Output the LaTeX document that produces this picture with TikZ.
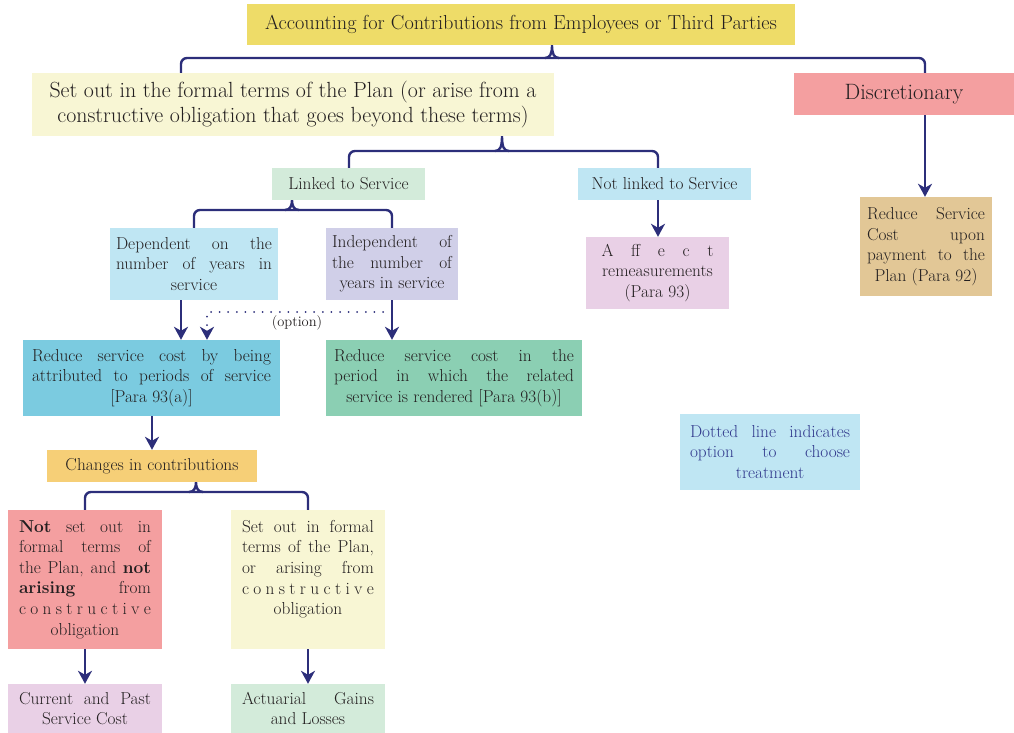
\documentclass[tikz,border=0pt]{standalone}
\usepackage{fontspec}
\usetikzlibrary{arrows.meta}
\definecolor{navy}{RGB}{44,46,122}
\definecolor{legendtxt}{RGB}{48,56,140}
\definecolor{txt}{RGB}{35,31,32}
\definecolor{cTitle}{RGB}{238,220,104}
\definecolor{cCream}{RGB}{248,246,212}
\definecolor{cPink}{RGB}{244,159,160}
\definecolor{cGreenL}{RGB}{211,235,218}
\definecolor{cBlueL}{RGB}{191,230,243}
\definecolor{cTan}{RGB}{226,199,150}
\definecolor{cLav}{RGB}{208,207,232}
\definecolor{cMauve}{RGB}{233,208,230}
\definecolor{cBlue}{RGB}{123,203,224}
\definecolor{cGreen}{RGB}{139,207,179}
\definecolor{cOrange}{RGB}{246,207,119}
\newcommand\jc[1]{\leftskip=0pt plus 1fil\rightskip=0pt plus -1fil\parfillskip=0pt plus 2fil\noindent#1\par}
\newcommand\spreadcon{c\hfill o\hfill n\hfill s\hfill t\hfill r\hfill u\hfill c\hfill t\hfill i\hfill v\hfill e}
\newcommand\fs{\fontsize{17.3}{20.6}\selectfont}
\tikzset{
  box/.style={rectangle, inner sep=0pt, font=\fs, text=txt, align=center},
  jbox/.style={box, align=none},
  conn/.style={draw=navy, line width=2.4pt},
  arr/.style={conn, -{Stealth[length=13pt,width=14pt,inset=4pt]}},
  dotarr/.style={draw=navy, line width=2pt, line cap=round, dash pattern=on 0pt off 8.6pt,
     -{Stealth[length=13pt,width=14pt,inset=4pt]}},
}
\begin{document}
\begin{tikzpicture}[x=1pt,y=-1pt]
\useasboundingbox (0,0) rectangle (1014,733);
% nodes
\node[box,fill=cTitle,minimum width=548pt,minimum height=41pt,font=\fontsize{20.3}{24}\selectfont] (title) at (521,24.5) {Accounting for Contributions from Employees or Third Parties};
\node[box,fill=cCream,minimum width=522pt,minimum height=63pt,font=\fontsize{21.9}{24.5}\selectfont] (setout) at (293,104.5) {Set out in the formal terms of the Plan (or arise from a\\constructive obligation that goes beyond these terms)};
\node[box,fill=cPink,minimum width=220pt,minimum height=42pt,font=\fontsize{22.2}{26}\selectfont] (disc) at (904,94) {Discretionary};
\node[box,fill=cGreenL,minimum width=153pt,minimum height=32pt] (linked) at (348.5,184) {Linked to Service};
\node[box,fill=cBlueL,minimum width=173pt,minimum height=32pt] (notlinked) at (664.5,184) {Not linked to Service};
\node[jbox,fill=cTan,minimum width=132pt,minimum height=99pt,text width=118pt] (tan) at (926,246.5) {\jc{Reduce Service\linebreak Cost upon\linebreak payment to the\linebreak Plan (Para 92)}};
\node[jbox,fill=cBlueL,minimum width=168pt,minimum height=72pt,text width=156pt] (dep) at (194,264) {\jc{Dependent on the\linebreak number of years in\linebreak service}};
\node[jbox,fill=cLav,minimum width=132pt,minimum height=72pt,text width=120pt] (indep) at (392,264) {\jc{Independent of\linebreak the number of\linebreak years in service}};
\node[box,fill=cMauve,minimum width=143pt,minimum height=72pt] (affect) at (657.5,273) {\makebox[112pt][s]{A\hfill ff\hfill e\hfill c\hfill t}\\remeasurements\\(Para 93)};
\node[jbox,fill=cBlue,minimum width=257pt,minimum height=76pt,text width=239pt] (red1) at (151.5,378) {\jc{Reduce service cost by being\linebreak attributed to periods of service\linebreak\relax [Para 93(a)]}};
\node[jbox,fill=cGreen,minimum width=256pt,minimum height=76pt,text width=240pt] (red2) at (454,378) {\jc{Reduce service cost in the\linebreak period in which the related\linebreak service is rendered [Para 93(b)]}};
\node[box,fill=cOrange,minimum width=210pt,minimum height=32pt] (changes) at (152,466) {Changes in contributions};
\node[jbox,fill=cPink,minimum width=154pt,minimum height=139pt,text width=132pt] (nso) at (85,579.5) {\jc{\textbf{Not} set out in\linebreak formal terms of\linebreak the Plan, and \textbf{not}\linebreak \textbf{arising} from\linebreak \spreadcon\linebreak obligation}};
\node[jbox,fill=cCream,minimum width=154pt,minimum height=139pt,text width=132pt] (sof) at (308,579.5) {\jc{Set out in formal\linebreak terms of the Plan,\linebreak or arising from\linebreak \spreadcon\linebreak obligation}\vspace*{20.6pt}};
\node[jbox,fill=cMauve,minimum width=154pt,minimum height=49pt,text width=132pt] (cur) at (85,708.5) {\jc{Current and Past\linebreak Service Cost}};
\node[jbox,fill=cGreenL,minimum width=154pt,minimum height=49pt,text width=132pt] (act) at (308,708.5) {\jc{Actuarial Gains\linebreak and Losses}};
\node[jbox,fill=cBlueL,minimum width=180pt,minimum height=76pt,text width=160pt,text=legendtxt] (legend) at (770,452) {\jc{Dotted line indicates\linebreak option to choose\linebreak treatment}};
\node[font=\fontsize{14.5}{16}\selectfont,text=txt,inner sep=1pt] (opt) at (297,323) {(option)};
% braces
\draw[conn,rounded corners=6pt] (181,0 |- setout.north) |- (552,58) -| (925,0 |- disc.north);
\draw[conn] (545,58) .. controls (550,58) and (552,54) .. (552,0 |- title.south) .. controls (552,54) and (554,58) .. (559,58);
\draw[conn,rounded corners=6pt] (349,0 |- linked.north) |- (502,151) -| (658,0 |- notlinked.north);
\draw[conn] (495,151) .. controls (500,151) and (502,147) .. (502,0 |- setout.south) .. controls (502,147) and (504,151) .. (509,151);
\draw[conn,rounded corners=6pt] (194,0 |- dep.north) |- (292,210) -| (392,0 |- indep.north);
\draw[conn] (285,210) .. controls (290,210) and (292,206) .. (292,0 |- linked.south) .. controls (292,206) and (294,210) .. (299,210);
\draw[conn,rounded corners=6pt] (85,0 |- nso.north) |- (196,492) -| (308,0 |- sof.north);
\draw[conn] (189,492) .. controls (194,492) and (196,488) .. (196,0 |- changes.south) .. controls (196,488) and (198,492) .. (203,492);
% arrows
\draw[arr] (925,0 |- disc.south) -- (925,0 |- tan.north);
\draw[arr] (658,0 |- notlinked.south) -- (658,0 |- affect.north);
\draw[arr] (181,0 |- dep.south) -- (181,0 |- red1.north);
\draw[arr] (392,0 |- indep.south) -- (392,0 |- red2.north);
\draw[arr] (152,0 |- red1.south) -- (152,0 |- changes.north);
\draw[arr] (85,0 |- nso.south) -- (85,0 |- cur.north);
\draw[arr] (308,0 |- sof.south) -- (308,0 |- act.north);
\coordinate (dotstart) at (383,312);
\draw[dotarr] (dotstart) -| (207,0 |- red1.north);
\end{tikzpicture}
\end{document}
